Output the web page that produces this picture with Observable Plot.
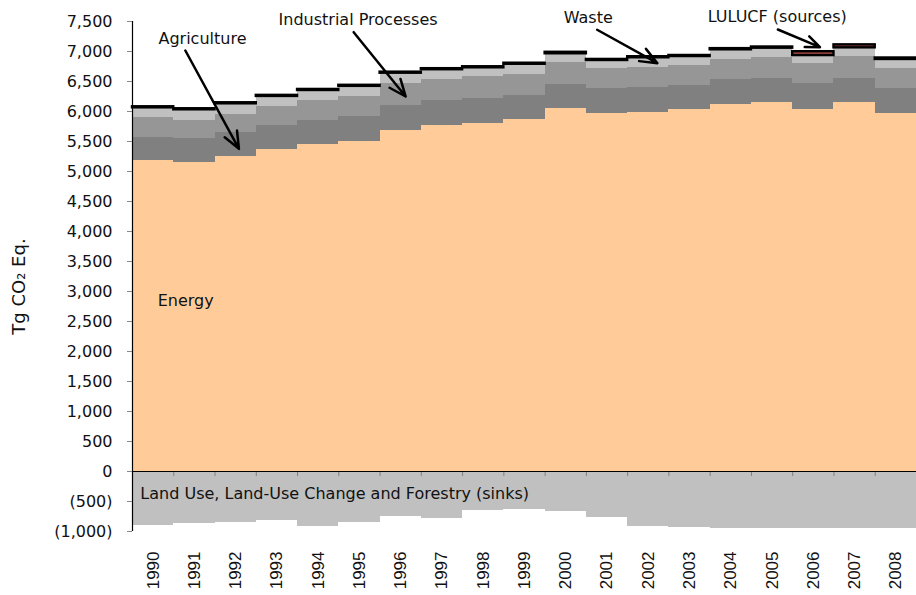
<!DOCTYPE html>
<html><head><meta charset="utf-8">
<script src="https://cdn.jsdelivr.net/npm/d3@7"></script>
<script src="https://cdn.jsdelivr.net/npm/@observablehq/plot@0.6"></script>
<style>body{margin:0;background:#fff}#chart svg{display:block}</style>
</head><body><div id="chart"></div>
<script>
const years = [1990,1991,1992,1993,1994,1995,1996,1997,1998,1999,2000,2001,2002,2003,2004,2005,2006,2007,2008];
const energy = [5183,5155,5255,5367,5450,5505,5683,5767,5805,5872,6055,5962,5988,6033,6125,6145,6033,6145,5962];
const agriculture = [388,400,400,400,400,411,417,417,417,395,395,427,417,400,408,410,438,410,427];
const industrial = [333,300,295,317,333,333,361,350,361,350,372,333,333,333,333,350,333,361,333];
const waste = [157,173,178,167,167,170,177,162,145,170,140,128,157,150,162,150,128,145,145];
const luluSources = [18,18,18,18,18,18,18,18,18,18,25,18,18,18,20,20,65,50,25];
const luluSinks = [-900,-872,-855,-817,-911,-855,-750,-778,-650,-633,-661,-761,-911,-928,-944,-956,-956,-956,-944];
const yTicks = [-1000,-500,0,500,1000,1500,2000,2500,3000,3500,4000,4500,5000,5500,6000,6500,7000,7500];
const seriesNames = ["Energy","Agriculture","Industrial Processes","Waste"];
const seriesColors = ["#FFCC99","#808080","#969696","#C0C0C0"];

const labels = [
  {text:"Agriculture", x:1990.63, y:7217},
  {text:"Industrial Processes", x:1993.54, y:7533},
  {text:"Waste", x:2000.45, y:7567},
  {text:"LULUCF (sources)", x:2003.94, y:7583},
  {text:"Energy", x:1990.61, y:2850},
  {text:"Land Use, Land-Use Change and Forestry (sinks)", x:1990.19, y:-367}
];
const arrows = [
  {x1:1991.28, y1:7017, x2:1992.58, y2:5378},
  {x1:1995.36, y1:7322, x2:1996.62, y2:6250},
  {x1:2001.26, y1:7362, x2:2002.72, y2:6805},
  {x1:2005.64, y1:7367, x2:2006.66, y2:7072}
];

const seriesData = [energy, agriculture, industrial, waste];
const stacked = [];
const tops = [];
years.forEach((yr, i) => {
  let base = 0;
  seriesNames.forEach((name, k) => {
    const v = seriesData[k][i];
    stacked.push({year: yr, name, y1: base, y2: base + v});
    base += v;
  });
  tops.push({year: yr, y1: base, y2: base + luluSources[i]});
});
const sinks = years.map((yr, i) => ({year: yr, v: luluSinks[i]}));

const fmt = d3.format(",");
const tickFormat = v => v < 0 ? `(${fmt(-v)})` : fmt(v);
const annFont = "DejaVu Sans, Verdana, sans-serif";

const chart = Plot.plot({
  width: 916, height: 595,
  marginLeft: 132, marginRight: 0, marginTop: 21, marginBottom: 64,
  style: {fontFamily: "Liberation Sans, Arial, sans-serif", background: "#fff", color: "#000"},
  x: {type: "linear", domain: [1990, 2009]},
  y: {domain: [-1000, 7500]},
  color: {domain: seriesNames, range: seriesColors},
  marks: [
    Plot.rect(stacked, {x1: "year", x2: d => d.year + 1, y1: "y1", y2: "y2", fill: "name", shapeRendering: "crispEdges"}),
    Plot.rect(sinks, {x1: "year", x2: d => d.year + 1, y1: 0, y2: "v", fill: "#C0C0C0", shapeRendering: "crispEdges"}),
    Plot.rect(tops, {x1: "year", x2: d => d.year + 1, y1: "y1", y2: "y2", fill: "#A04545", stroke: "#000", strokeWidth: 2.4}),
    Plot.ruleX(years.slice(1), {y1: 0, y2: -85, stroke: "#808080", strokeWidth: 1}),
    Plot.ruleY([0], {stroke: "#000", strokeWidth: 1}),
    Plot.ruleX([1990], {y1: -1000, y2: 7500, stroke: "#000", strokeWidth: 1.2}),
    Plot.axisY({ticks: yTicks, tickFormat, tickSize: 5, tickPadding: 15, stroke: "#888", fontSize: 16, fontFamily: annFont, fill: "#111", label: null}),
    Plot.axisX({ticks: years.map(y => y + 0.5), tickFormat: d => String(Math.floor(d)), tickRotate: -90, tickSize: 0, tickPadding: 20, fontSize: 17, fill: "#111", label: null}),
    Plot.text(["Tg CO₂ Eq."], {frameAnchor: "left", y: 3083, dx: -113, rotate: -90, textAnchor: "middle", fontSize: 18, fontFamily: annFont, fill: "#111"}),
    Plot.arrow(arrows, {x1: "x1", y1: "y1", x2: "x2", y2: "y2", stroke: "#000", strokeWidth: 2.5, headLength: 11, headAngle: 45}),
    Plot.text(labels, {x: "x", y: "y", text: "text", textAnchor: "start", fontSize: 16, fontFamily: annFont, fill: "#111"})
  ]
});
document.getElementById("chart").appendChild(chart);
</script>
</body></html>
